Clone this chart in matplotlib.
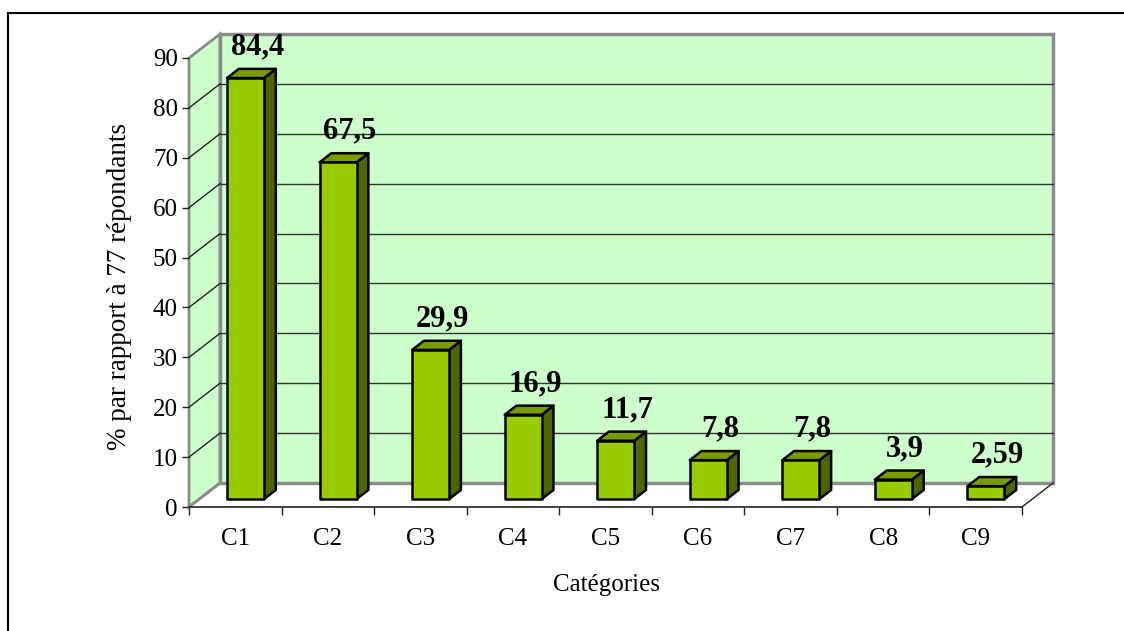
import matplotlib.pyplot as plt
from matplotlib.patches import Polygon

categories = ["C1", "C2", "C3", "C4", "C5", "C6", "C7", "C8", "C9"]
values = [84.4, 67.5, 29.9, 16.9, 11.7, 7.8, 7.8, 3.9, 2.59]
labels = ["84,4", "67,5", "29,9", "16,9", "11,7", "7,8", "7,8", "3,9", "2,59"]
y_ticks = list(range(0, 100, 10))

plt.rcParams["font.family"] = ["Liberation Serif", "DejaVu Serif"]

W, H = 1124, 631
fig = plt.figure(figsize=(W / 100, H / 100), dpi=100)
# front plot area in pixels: x 189..1022, y 507 (0) .. 58 (90)
ax = fig.add_axes([189 / W, (H - 507) / H, (1022 - 189) / W, (507 - 58) / H])
n = len(categories)
ymax = 90
ax.set_xlim(0, n)
ax.set_ylim(0, ymax)
for s in ax.spines.values():
    s.set_visible(False)

# depth offset (data units)
dx = 31 / ((1022 - 189) / n)
dy = 24 / ((507 - 58) / ymax)

wall_col = "#CCFFCC"
edge_gray = "#8C8C8C"

# side wall and back wall
side = Polygon([(0, 0), (dx, dy), (dx, ymax + dy), (0, ymax)], closed=True,
               facecolor=wall_col, edgecolor=edge_gray, lw=2, clip_on=False, zorder=1)
back = Polygon([(dx, dy), (n + dx, dy), (n + dx, ymax + dy), (dx, ymax + dy)], closed=True,
               facecolor=wall_col, edgecolor=edge_gray, lw=2.5, clip_on=False, zorder=1)
ax.add_patch(side)
ax.add_patch(back)

# gridlines
for t in y_ticks[1:-1]:
    ax.plot([dx, n + dx], [t + dy, t + dy], color="#333333", lw=1, clip_on=False, zorder=2)
    ax.plot([0, dx], [t, t + dy], color="#222222", lw=1, clip_on=False, zorder=2)

# floor edges
ax.plot([0, dx], [0, dy], color=edge_gray, lw=2, clip_on=False, zorder=2)
ax.plot([n, n + dx], [0, dy], color="#222222", lw=1, clip_on=False, zorder=2)
ax.plot([0, n], [0, 0], color="#222222", lw=1.2, clip_on=False, zorder=3)

# bars
d0, d1 = 0.33, 0.71
bw = 0.40
front_col = "#99CC00"
top_col = "#789C00"
side_col = "#4D6600"
for i, v in enumerate(values):
    x0 = i + 0.5 - bw / 2 + d0 * dx
    x1 = x0 + bw
    y0 = d0 * dy
    y1 = v + d0 * dy
    ox = (d1 - d0) * dx
    oy = (d1 - d0) * dy
    sd = Polygon([(x1, y0), (x1 + ox, y0 + oy), (x1 + ox, y1 + oy), (x1, y1)], closed=True,
                 facecolor=side_col, edgecolor="black", lw=1.8, joinstyle="round",
                 clip_on=False, zorder=4)
    tp = Polygon([(x0, y1), (x0 + ox, y1 + oy), (x1 + ox, y1 + oy), (x1, y1)], closed=True,
                 facecolor=top_col, edgecolor="black", lw=1.8, joinstyle="round",
                 clip_on=False, zorder=4)
    fr = Polygon([(x0, y0), (x1, y0), (x1, y1), (x0, y1)], closed=True,
                 facecolor=front_col, edgecolor="black", lw=1.8, joinstyle="round",
                 clip_on=False, zorder=5)
    ax.add_patch(sd)
    ax.add_patch(tp)
    ax.add_patch(fr)
    ax.text(i + 0.5 + d1 * dx, v + d1 * dy + 2.9, labels[i], ha="center", va="baseline",
            fontsize=22, fontweight="bold", zorder=6)

# axes ticks
ax.set_yticks(y_ticks)
ax.set_yticklabels([str(t) for t in y_ticks], fontsize=18)
ax.tick_params(axis="y", direction="out", length=5, width=1, color="#222222", pad=3)
ax.set_xticks(range(n + 1))
ax.set_xticklabels([""] * (n + 1))
ax.tick_params(axis="x", which="major", direction="out", length=6, width=1, color="#222222")
ax.set_xticks([i + 0.5 for i in range(n)], minor=True)
ax.set_xticklabels(categories, minor=True, fontsize=18)
ax.tick_params(axis="x", which="minor", length=0, pad=15)

fig.text(120 / W, 1 - 287 / H, "% par rapport à 77 répondants", rotation=90,
         ha="center", va="center", fontsize=19.5)
fig.text(606 / W, 1 - 585 / H, "Catégories", ha="center", va="center", fontsize=18)

# outer frame (partially cropped)
fig.add_artist(plt.Line2D([8 / W, 1], [1 - 13 / H, 1 - 13 / H], color="black", lw=1.5))
fig.add_artist(plt.Line2D([8 / W, 8 / W], [0, 1 - 13 / H], color="black", lw=1.5))

plt.savefig("out.png", dpi=100)
